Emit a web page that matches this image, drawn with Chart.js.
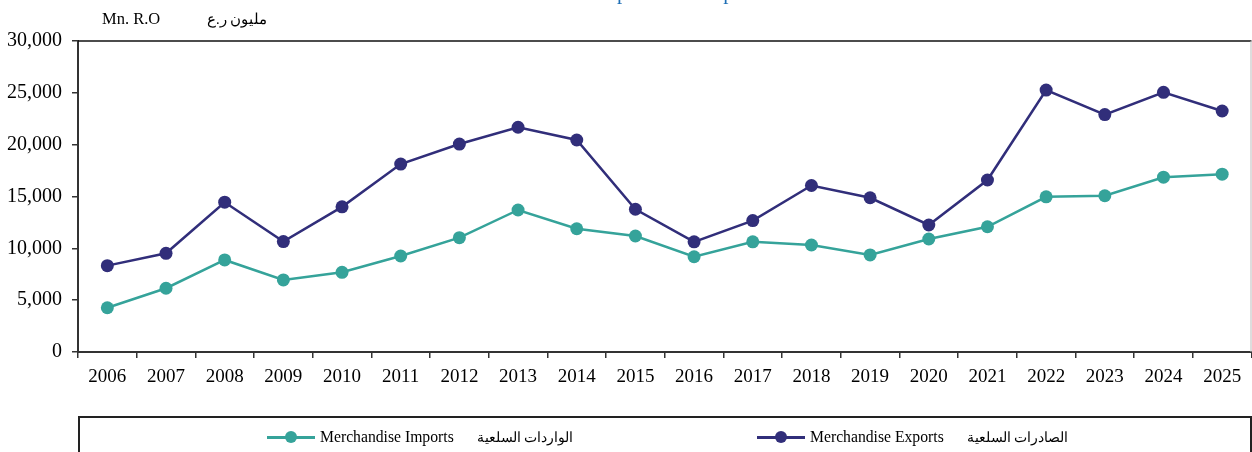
<!DOCTYPE html>
<html>
<head>
<meta charset="utf-8">
<script src="https://cdn.jsdelivr.net/npm/chart.js@4.4.1/dist/chart.umd.min.js"></script>
<style>
  html, body { margin:0; padding:0; background:#fff; overflow:hidden; }
  #wrap { position:relative; width:1252px; height:452px; overflow:hidden; font-family:"Liberation Serif","Times New Roman",serif; }
  #chartBox { position:absolute; left:0; top:0; width:1258px; height:452px; }
  .txt { position:absolute; white-space:nowrap; color:#000; }
  #title { left:480px; top:-20px; font-size:21px; line-height:24px; color:#1F6FB5; }
  #unitEn { left:102px; top:10px; font-size:16.5px; line-height:18px; }
  #unitAr { left:207px; top:10px; font-size:14.5px; line-height:18px; }
  #legendBox { position:absolute; left:78px; top:416px; width:1174px; height:60px; border:2px solid #222; box-sizing:border-box; }
  .lg { position:absolute; top:427px; height:20px; font-size:15.7px; line-height:20px; white-space:nowrap; }
  .lg .ar { font-size:14px; margin-left:23px; }
  .lg .mk { display:inline-block; position:relative; width:48px; height:20px; vertical-align:top; margin-right:5px; }
  .lg .mk .ln { position:absolute; left:0; top:9px; width:48px; height:3px; }
  .lg .mk .dt { position:absolute; left:18px; top:4px; width:12px; height:12px; border-radius:50%; }
</style>
</head>
<body>
<div id="wrap">
  <div id="chartBox"><canvas id="c" width="1258" height="452"></canvas></div>
  <div class="txt" id="title">Merchandise Exports and Imports</div>
  <div class="txt" id="unitEn">Mn. R.O</div>
  <div class="txt" id="unitAr" dir="rtl">مليون ر.ع</div>
  <div id="legendBox"></div>
  <div class="lg" id="lgImp" style="left:267px;"><span class="mk"><span class="ln" style="background:#35A39A"></span><span class="dt" style="background:#35A39A"></span></span>Merchandise Imports<span class="ar" dir="rtl">الواردات السلعية</span></div>
  <div class="lg" id="lgExp" style="left:757px;"><span class="mk"><span class="ln" style="background:#312E7A"></span><span class="dt" style="background:#312E7A"></span></span>Merchandise Exports<span class="ar" dir="rtl">الصادرات السلعية</span></div>
</div>
<script>
const years = ['2006','2007','2008','2009','2010','2011','2012','2013','2014','2015','2016','2017','2018','2019','2020','2021','2022','2023','2024','2025'];
const exportsMnRO = [8330, 9520, 14450, 10650, 14000, 18130, 20060, 21680, 20450, 13770, 10630, 12680, 16060, 14880, 12250, 16590, 25270, 22900, 25050, 23250];
const importsMnRO = [4270, 6150, 8880, 6950, 7690, 9260, 11030, 13700, 11890, 11190, 9190, 10630, 10320, 9360, 10900, 12080, 14970, 15070, 16860, 17150];
const yTicks = [0, 5000, 10000, 15000, 20000, 25000, 30000];

const exportColor = '#312E7A';
const importColor = '#35A39A';

const frame = {
  id: 'frame',
  afterDraw(chart) {
    const a = chart.chartArea, ctx = chart.ctx;
    ctx.save();
    ctx.strokeStyle = '#111';
    ctx.lineWidth = 1.5;
    ctx.beginPath(); ctx.moveTo(a.left, a.top); ctx.lineTo(a.right, a.top); ctx.stroke();
    ctx.strokeStyle = '#bbb';
    ctx.lineWidth = 1;
    ctx.beginPath(); ctx.moveTo(a.right - 0.5, a.top); ctx.lineTo(a.right - 0.5, a.bottom); ctx.stroke();
    ctx.restore();
  }
};

new Chart(document.getElementById('c'), {
  type: 'line',
  data: {
    labels: years,
    datasets: [
      { label: 'Merchandise Exports', data: exportsMnRO, borderColor: exportColor, backgroundColor: exportColor,
        borderWidth: 2.5, pointRadius: 6.5, pointHoverRadius: 6.5, pointBorderWidth: 0, tension: 0 },
      { label: 'Merchandise Imports', data: importsMnRO, borderColor: importColor, backgroundColor: importColor,
        borderWidth: 2.5, pointRadius: 6.5, pointHoverRadius: 6.5, pointBorderWidth: 0, tension: 0 }
    ]
  },
  options: {
    responsive: false,
    animation: false,
    events: [],
    layout: { padding: { left: 0, right: 1, top: 41, bottom: 0 } },
    plugins: { legend: { display: false }, tooltip: { enabled: false }, title: { display: false } },
    scales: {
      x: {
        type: 'category',
        offset: true,
        grid: { display: true, offset: true, drawOnChartArea: false, drawTicks: true, tickLength: 6, color: '#333', lineWidth: 1.5 },
        border: { display: true, color: '#333', width: 2 },
        ticks: { color: '#000', font: { family: 'Liberation Serif', size: 19 }, padding: 8, maxRotation: 0, autoSkip: false },
        afterFit(s) { s.height = 100; s.paddingLeft = 0; s.paddingRight = 0; }
      },
      y: {
        min: 0, max: 30000,
        afterBuildTicks(s) { s.ticks = yTicks.map(v => ({ value: v })); },
        grid: { display: true, drawOnChartArea: false, drawTicks: true, tickLength: 6, color: '#333', lineWidth: 1.5 },
        border: { display: true, color: '#333', width: 2 },
        ticks: { color: '#000', font: { family: 'Liberation Serif', size: 20 }, padding: 10,
          callback: v => v.toLocaleString('en-US') },
        afterFit(s) { s.width = 78; }
      }
    }
  },
  plugins: [frame]
});
</script>
</body>
</html>
